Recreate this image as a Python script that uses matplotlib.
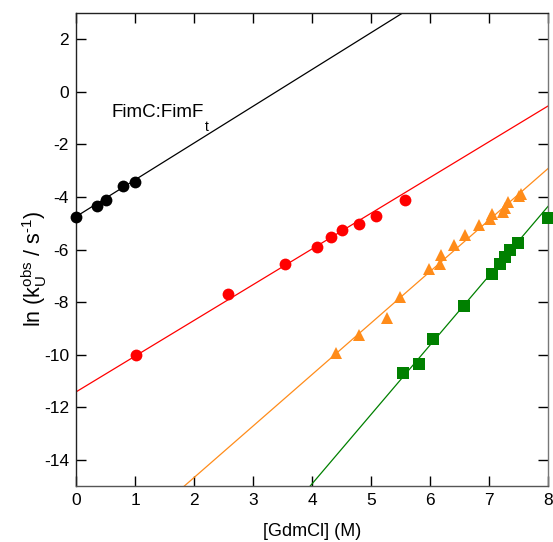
import numpy as np
import matplotlib
matplotlib.use('Agg')
import matplotlib.pyplot as plt

plt.rcParams['font.family'] = ['Liberation Sans', 'DejaVu Sans']
plt.rcParams['mathtext.fontset'] = 'custom'
plt.rcParams['mathtext.rm'] = 'Liberation Sans'
plt.rcParams['mathtext.it'] = 'Liberation Sans'
plt.rcParams['axes.unicode_minus'] = False

# FimC:FimFt unfolding kinetics, ln k vs [GdmCl]
black_x = [0.0, 0.35, 0.51, 0.80, 1.0]
black_y = [-4.77, -4.34, -4.13, -3.59, -3.44]

red_x = [1.02, 2.57, 3.54, 4.08, 4.33, 4.51, 4.80, 5.08, 5.58]
red_y = [-10.03, -7.68, -6.57, -5.92, -5.53, -5.24, -5.02, -4.72, -4.13]

orange_x = [4.41, 4.80, 5.27, 5.49, 5.99, 6.18, 6.17, 6.41, 6.59, 6.83,
            7.02, 7.05, 7.23, 7.27, 7.33, 7.51, 7.55]
orange_y = [-9.93, -9.27, -8.60, -7.80, -6.73, -6.22, -6.55, -5.83, -5.43, -5.07,
            -4.83, -4.64, -4.58, -4.41, -4.20, -3.97, -3.90]

green_x = [5.55, 5.81, 6.05, 6.57, 7.05, 7.19, 7.27, 7.36, 7.49, 8.0]
green_y = [-10.71, -10.34, -9.42, -8.16, -6.92, -6.54, -6.29, -6.02, -5.77, -4.82]

# linear fits: (intercept, slope)
fit_black = (-4.75, 1.40)
fit_red = (-11.42, 1.36)
fit_orange = (-18.6, 1.96)
fit_green = (-25.48, 2.64)

fig = plt.figure(figsize=(5.53, 5.42), dpi=100)
ax = fig.add_axes([76 / 553, 1 - 486 / 542, 472 / 553, 473 / 542])

xx = np.linspace(0, 8, 200)
series = [
    (black_x, black_y, fit_black, 'black', 'o', 8.5),
    (red_x, red_y, fit_red, '#ff0000', 'o', 8.5),
    (orange_x, orange_y, fit_orange, '#ff8c1a', '^', 9),
    (green_x, green_y, fit_green, '#008000', 's', 8.5),
]
for xs, ys, (b, m), col, mk, ms in series:
    ax.plot(xx, b + m * xx, color=col, linewidth=0.9)
    ax.plot(xs, ys, linestyle='none', marker=mk, markersize=ms, color=col,
            markeredgewidth=0, clip_on=False, zorder=3)

ax.set_xlim(0, 8)
ax.set_ylim(-15, 3)
ax.set_xticks(range(0, 9))
ax.set_yticks(range(-14, 3, 2))
ax.tick_params(direction='in', length=7, width=1, labelsize=12.5,
               top=True, right=True, labeltop=False, labelright=False, pad=5)

ax.spines['left'].set_color('#222222')
ax.spines['top'].set_color('#222222')
ax.spines['bottom'].set_color('#555555')
ax.spines['right'].set_color('#777777')
for s in ax.spines.values():
    s.set_linewidth(1.0)

ax.set_xlabel('[GdmCl] (M)', fontsize=13)
ax.xaxis.set_label_coords(0.5, -0.078)
ax.set_ylabel(r'ln (k$_\mathregular{U}^\mathregular{obs}$ / s$^\mathregular{\text{-1}}$)',
              fontsize=15.5)
ax.yaxis.set_label_coords(-0.058, 0.46)

label = ax.text(0.6, -0.95, 'FimC:FimF', fontsize=13.5)
ax.annotate('t', xy=(1, 0), xycoords=label, xytext=(1, -7),
            textcoords='offset points', fontsize=10, va='baseline')

fig.savefig('out.png', dpi=100)
